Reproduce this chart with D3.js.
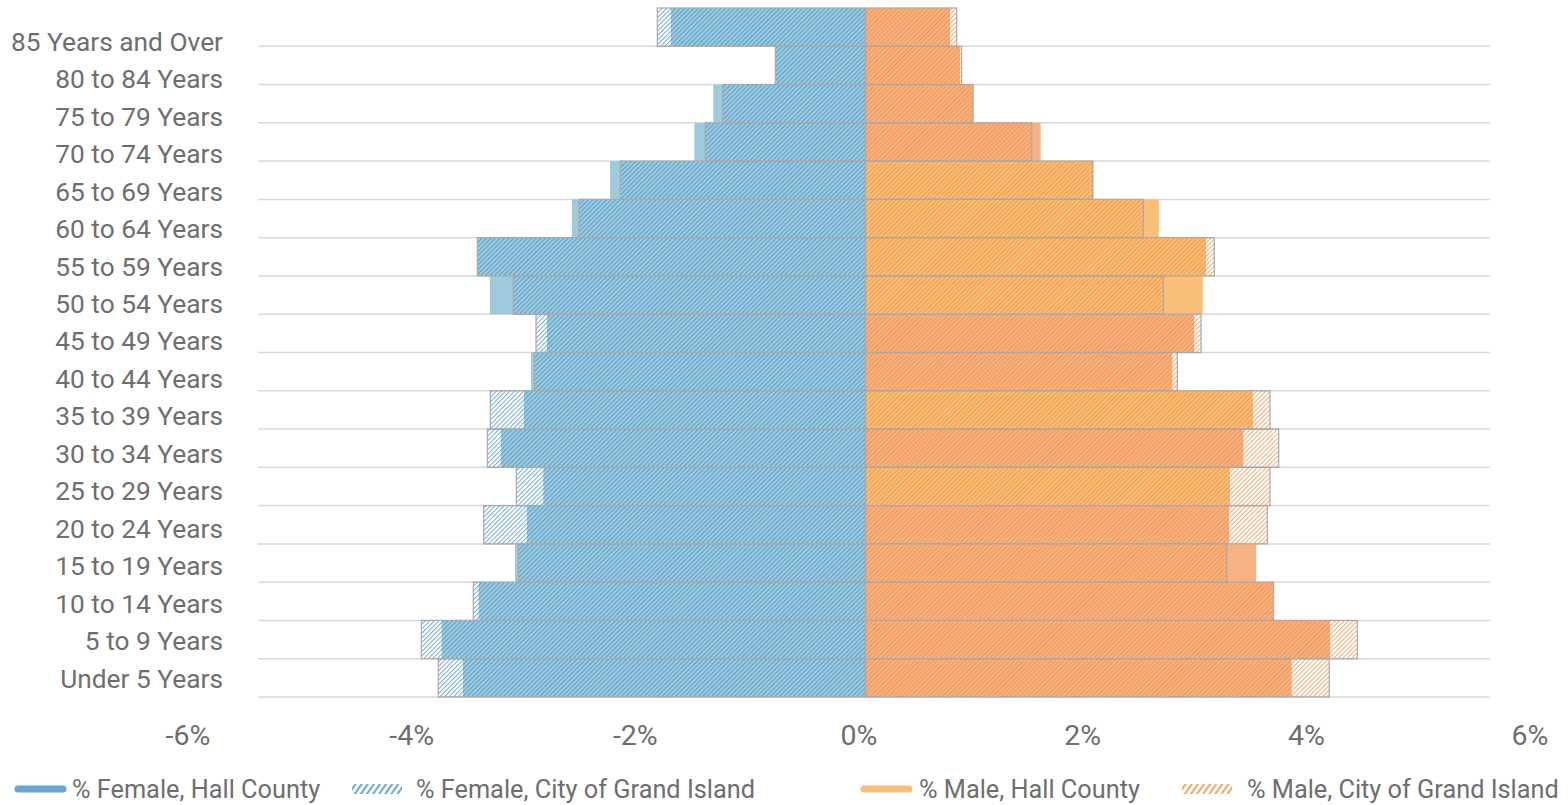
<!DOCTYPE html>
<html>
<head>
<meta charset="utf-8">
<script src="https://cdn.jsdelivr.net/npm/d3@7"></script>
<style>
  html, body { margin: 0; padding: 0; background: #ffffff; }
  svg { display: block; font-family: Roboto, "Noto Sans", sans-serif; }
</style>
</head>
<body>
<svg id="chart" width="1568" height="805"></svg>
<script>
// ---- data (percent of population) ----
const categories = [
  "85 Years and Over", "80 to 84 Years", "75 to 79 Years", "70 to 74 Years",
  "65 to 69 Years", "60 to 64 Years", "55 to 59 Years", "50 to 54 Years",
  "45 to 49 Years", "40 to 44 Years", "35 to 39 Years", "30 to 34 Years",
  "25 to 29 Years", "20 to 24 Years", "15 to 19 Years", "10 to 14 Years",
  "5 to 9 Years", "Under 5 Years"
];
const femaleHall = [1.740, 0.805, 1.361, 1.531, 2.285, 2.625, 3.468, 3.359, 2.849, 2.992, 3.055, 3.260, 2.882, 3.028, 3.135, 3.460, 3.791, 3.600];
const femaleCity = [1.862, 0.807, 1.277, 1.433, 2.193, 2.563, 3.472, 3.150, 2.947, 2.962, 3.356, 3.383, 3.123, 3.415, 3.106, 3.508, 3.973, 3.821];
const maleHall   = [0.756, 0.845, 0.965, 1.567, 2.039, 2.623, 3.046, 3.016, 2.938, 2.744, 3.466, 3.379, 3.260, 3.251, 3.493, 3.654, 4.155, 3.812];
const maleCity   = [0.816, 0.860, 0.962, 1.487, 2.032, 2.485, 3.120, 2.664, 3.001, 2.789, 3.618, 3.696, 3.618, 3.594, 3.231, 3.650, 4.399, 4.148];
const xTicks = [-6, -4, -2, 0, 2, 4, 6];
const seriesNames = ["% Female, Hall County", "% Female, City of Grand Island", "% Male, Hall County", "% Male, City of Grand Island"];

// ---- styles (kept apart from data) ----
const textColor = "#6e6e6e";
const femaleFill = "#9dcbdc";
const femaleHatch = "#3d8ac8";
const maleFillA = "#f6b283";   // salmon tone
const maleFillB = "#f9bf78";   // lighter amber tone
const maleHatch = "#f08838";
const amberRows = new Set(["65 to 69 Years", "60 to 64 Years", "55 to 59 Years", "50 to 54 Years", "35 to 39 Years", "25 to 29 Years"]);

const svg = d3.select("#chart");
const defs = svg.append("defs");
function hatch(id, color) {
  const p = defs.append("pattern").attr("id", id)
    .attr("patternUnits", "userSpaceOnUse")
    .attr("width", 3.2).attr("height", 3.2)
    .attr("patternTransform", "rotate(45)");
  p.append("line").attr("x1", 0.5).attr("y1", 0).attr("x2", 0.5).attr("y2", 3.2)
    .attr("stroke", color).attr("stroke-width", 0.9).attr("stroke-opacity", 0.8);
}
hatch("hatchF", femaleHatch);
hatch("hatchM", maleHatch);
function hatchLegend(id, color) {
  const p = defs.append("pattern").attr("id", id)
    .attr("patternUnits", "userSpaceOnUse")
    .attr("width", 5).attr("height", 5)
    .attr("patternTransform", "rotate(35)");
  p.append("line").attr("x1", 1).attr("y1", 0).attr("x2", 1).attr("y2", 5)
    .attr("stroke", color).attr("stroke-width", 1.5);
}
hatchLegend("hatchFL", femaleHatch);
hatchLegend("hatchML", maleHatch);

// ---- scales ----
const xBar = d3.scaleLinear().domain([-6, 6]).range([865.5 - 6 * 111.8, 865.5 + 6 * 111.8]);
const xTick = d3.scaleLinear().domain([-6, 6]).range([187.5, 1529.5]);
const yBar = d3.scaleBand().domain(categories).range([8, 697]).padding(0);
const yLabel = d3.scalePoint().domain(categories).range([41, 678]);

// ---- gridlines ----
svg.append("g").selectAll("line").data(categories).join("line")
  .attr("x1", 258).attr("x2", 1490)
  .attr("y1", d => yBar(d) + yBar.bandwidth())
  .attr("y2", d => yBar(d) + yBar.bandwidth())
  .attr("stroke", "#d9d9d9").attr("stroke-width", 1.5);

const rows = categories.map((c, i) => ({ c, fh: femaleHall[i], fc: femaleCity[i], mh: maleHall[i], mc: maleCity[i] }));

// county (solid) bars
const g = svg.append("g");
g.selectAll(".fh").data(rows).join("rect").attr("class", "fh")
  .attr("x", d => xBar(-d.fh)).attr("width", d => xBar(0) - xBar(-d.fh))
  .attr("y", d => yBar(d.c)).attr("height", yBar.bandwidth())
  .attr("fill", femaleFill);
g.selectAll(".mh").data(rows).join("rect").attr("class", "mh")
  .attr("x", xBar(0)).attr("width", d => xBar(d.mh) - xBar(0))
  .attr("y", d => yBar(d.c)).attr("height", yBar.bandwidth())
  .attr("fill", d => amberRows.has(d.c) ? maleFillB : maleFillA);

// city (hatched) bars
g.selectAll(".fc").data(rows).join("rect").attr("class", "fc")
  .attr("x", d => xBar(-d.fc)).attr("width", d => xBar(0) - xBar(-d.fc))
  .attr("y", d => yBar(d.c)).attr("height", yBar.bandwidth())
  .attr("fill", "url(#hatchF)").attr("stroke", "#a9a9a9").attr("stroke-width", 1.2);
g.selectAll(".mc").data(rows).join("rect").attr("class", "mc")
  .attr("x", xBar(0)).attr("width", d => xBar(d.mc) - xBar(0))
  .attr("y", d => yBar(d.c)).attr("height", yBar.bandwidth())
  .attr("fill", "url(#hatchM)").attr("stroke", "#a9a9a9").attr("stroke-width", 1.2);

// ---- category axis ----
const yAxis = svg.append("g").attr("transform", "translate(223,0)")
  .call(d3.axisLeft(yLabel).tickSize(0).tickPadding(0));
yAxis.select(".domain").remove();
yAxis.selectAll("text").attr("fill", textColor).attr("font-size", 26.3)
  .attr("font-family", "Roboto, sans-serif").attr("dy", "0.35em");

// ---- value axis ----
const xAxis = svg.append("g").attr("transform", "translate(0,735)")
  .call(d3.axisBottom(xTick).tickValues(xTicks).tickSize(0).tickPadding(0)
    .tickFormat(d => d + "%"));
xAxis.select(".domain").remove();
xAxis.selectAll("text").attr("fill", textColor).attr("font-size", 28.5)
  .attr("font-family", "Roboto, sans-serif").attr("dy", "0.35em");

// ---- legend ----
const legendX = [15, 352, 861, 1182];
const legendTextX = [72, 416, 919, 1247];
const lg = svg.append("g");
const ly = 789;
seriesNames.forEach((name, i) => {
  if (i % 2 === 0) {
    lg.append("line").attr("x1", legendX[i] + 3).attr("x2", legendX[i] + 48)
      .attr("y1", ly).attr("y2", ly)
      .attr("stroke", i === 0 ? "#6aa3d5" : "#fabf76")
      .attr("stroke-width", 7).attr("stroke-linecap", "round");
  } else {
    lg.append("rect").attr("x", legendX[i]).attr("y", ly - 5)
      .attr("width", 50).attr("height", 10)
      .attr("fill", i === 1 ? "url(#hatchFL)" : "url(#hatchML)");
  }
  lg.append("text").attr("x", legendTextX[i]).attr("y", ly).attr("dy", "0.35em")
    .attr("fill", textColor).attr("font-size", 25.3)
    .attr("font-family", "Roboto, sans-serif").text(name);
});
</script>
</body>
</html>
